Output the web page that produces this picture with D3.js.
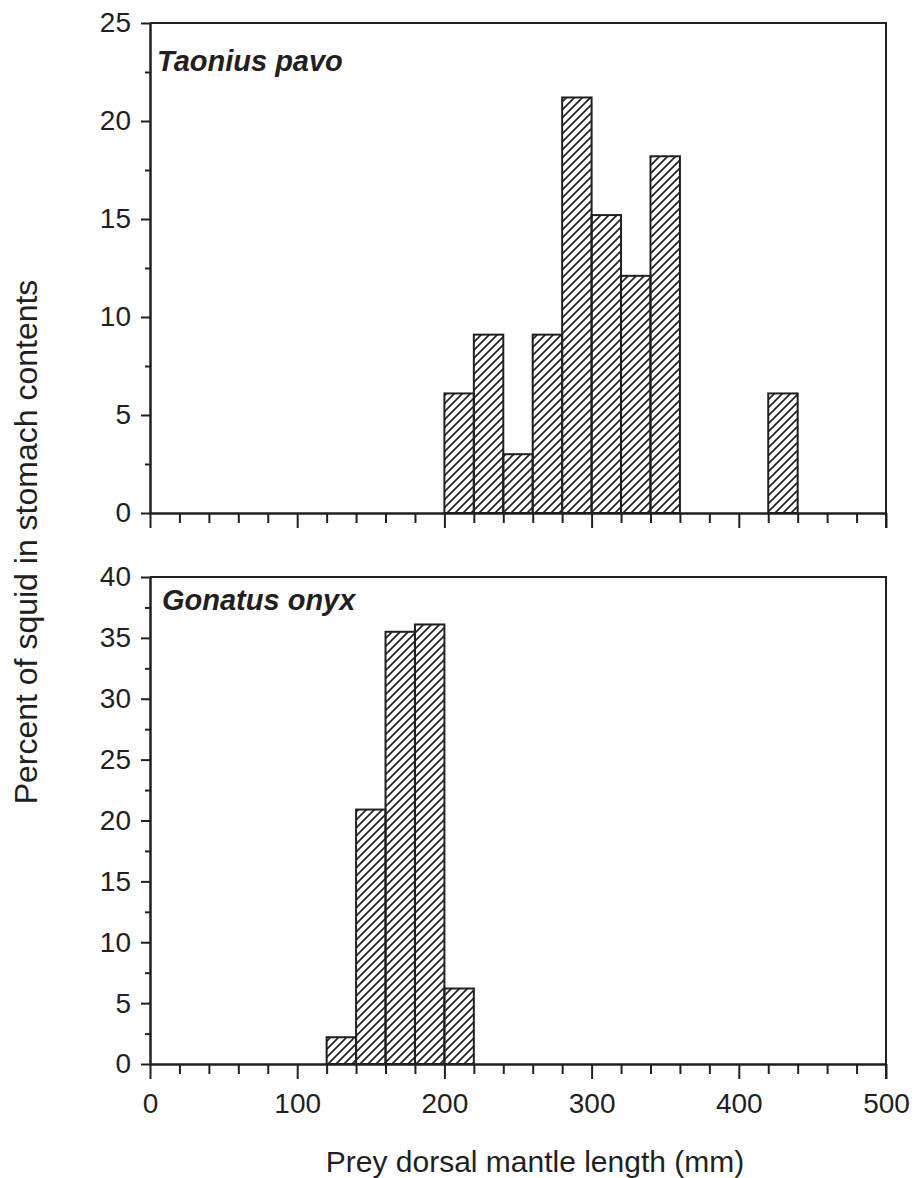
<!DOCTYPE html>
<html>
<head>
<meta charset="utf-8">
<script src="https://cdn.jsdelivr.net/npm/d3@7"></script>
<style>
  body { margin: 0; background: #fff; }
  svg { display: block; font-family: "Liberation Sans", Arial, sans-serif; }
</style>
</head>
<body>
<script>
// histogram bins (left edge, mm) and percent of squid
var binWidth = 20;
var taoniusBins = [200, 220, 240, 260, 280, 300, 320, 340, 420];
var taoniusValues = [6.1, 9.1, 3.0, 9.1, 21.2, 15.2, 12.1, 18.2, 6.1];
var gonatusBins = [120, 140, 160, 180, 200];
var gonatusValues = [2.2, 20.9, 35.5, 36.1, 6.2];

var xTicks = [0, 100, 200, 300, 400, 500];
var xMinorTicks = d3.range(0, 501, 20).filter(function(d) { return d % 100 !== 0; });
var topYTicks = [0, 5, 10, 15, 20, 25];
var bottomYTicks = [0, 5, 10, 15, 20, 25, 30, 35, 40];

var ink = "#231f20";
var chartWidth = 915;
var chartHeight = 1178;

var svg = d3.select("body")
            .append("svg")
            .attr("width", chartWidth)
            .attr("height", chartHeight);

// diagonal hatch
svg.append("defs")
   .append("pattern")
   .attr("id", "hatch")
   .attr("patternUnits", "userSpaceOnUse")
   .attr("width", 8)
   .attr("height", 8)
   .append("path")
   .attr("d", "M-2,2 l4,-4 M0,8 l8,-8 M6,10 l4,-4")
   .attr("stroke", ink)
   .attr("stroke-width", 1.7);

var xScale = d3.scaleLinear().domain([0, 500]).range([150, 886]);

function drawPanel(opts) {
  var yScale = d3.scaleLinear().domain([0, opts.yMax]).range([opts.bottom, opts.top]);
  var g = svg.append("g");

  // bars
  g.selectAll("rect")
   .data(opts.bins)
   .enter()
   .append("rect")
   .attr("x", function(d) { return xScale(d); })
   .attr("y", function(d, i) { return yScale(opts.values[i]); })
   .attr("width", function(d) { return xScale(d + binWidth) - xScale(d); })
   .attr("height", function(d, i) { return yScale(0) - yScale(opts.values[i]); })
   .attr("fill", "url(#hatch)")
   .attr("stroke", ink)
   .attr("stroke-width", 2);

  // frame: top and right
  g.append("path")
   .attr("d", "M" + xScale(0) + "," + opts.top + "H" + xScale(500) + "V" + (opts.bottom + 15))
   .attr("fill", "none")
   .attr("stroke", ink)
   .attr("stroke-width", 2);

  // y axis
  var minorY = d3.range(2.5, opts.yMax, 5);
  g.append("g")
   .attr("transform", "translate(" + xScale(0) + ",0)")
   .call(d3.axisLeft(yScale).tickValues(minorY).tickSize(5).tickSizeOuter(0).tickFormat(""))
   .call(styleAxis);
  g.append("g")
   .attr("transform", "translate(" + xScale(0) + ",0)")
   .call(d3.axisLeft(yScale).tickValues(opts.yTicks).tickSize(9).tickSizeOuter(0).tickPadding(10))
   .call(styleAxis);

  // x axis
  g.append("g")
   .attr("transform", "translate(0," + opts.bottom + ")")
   .call(d3.axisBottom(xScale).tickValues(xMinorTicks).tickSize(10).tickSizeOuter(0).tickFormat(""))
   .call(styleAxis);
  g.append("g")
   .attr("transform", "translate(0," + opts.bottom + ")")
   .call(d3.axisBottom(xScale).tickValues(xTicks).tickSize(15).tickSizeOuter(0).tickPadding(14)
          .tickFormat(opts.showX ? d3.format("d") : ""))
   .call(styleAxis);

  g.append("text")
   .attr("x", opts.labelX)
   .attr("y", opts.labelY)
   .attr("font-size", 29)
   .attr("font-weight", "bold")
   .attr("font-style", "italic")
   .attr("fill", ink)
   .text(opts.label);
}

function styleAxis(sel) {
  sel.attr("font-family", null).attr("font-size", 28).attr("color", ink);
  sel.selectAll("path, line").attr("stroke-width", 2);
  sel.selectAll("text").attr("fill", ink);
}

drawPanel({
  bins: taoniusBins, values: taoniusValues, yMax: 25, yTicks: topYTicks,
  top: 23, bottom: 513, showX: false,
  label: "Taonius pavo", labelX: 157, labelY: 71
});

drawPanel({
  bins: gonatusBins, values: gonatusValues, yMax: 40, yTicks: bottomYTicks,
  top: 577, bottom: 1064, showX: true,
  label: "Gonatus onyx", labelX: 162, labelY: 610
});

svg.append("text")
   .attr("x", 535)
   .attr("y", 1172)
   .attr("text-anchor", "middle")
   .attr("font-size", 30)
   .attr("fill", ink)
   .text("Prey dorsal mantle length (mm)");

svg.append("text")
   .attr("transform", "rotate(-90)")
   .attr("x", -542)
   .attr("y", 37)
   .attr("text-anchor", "middle")
   .attr("font-size", 32)
   .attr("fill", ink)
   .text("Percent of squid in stomach contents");
</script>
</body>
</html>
